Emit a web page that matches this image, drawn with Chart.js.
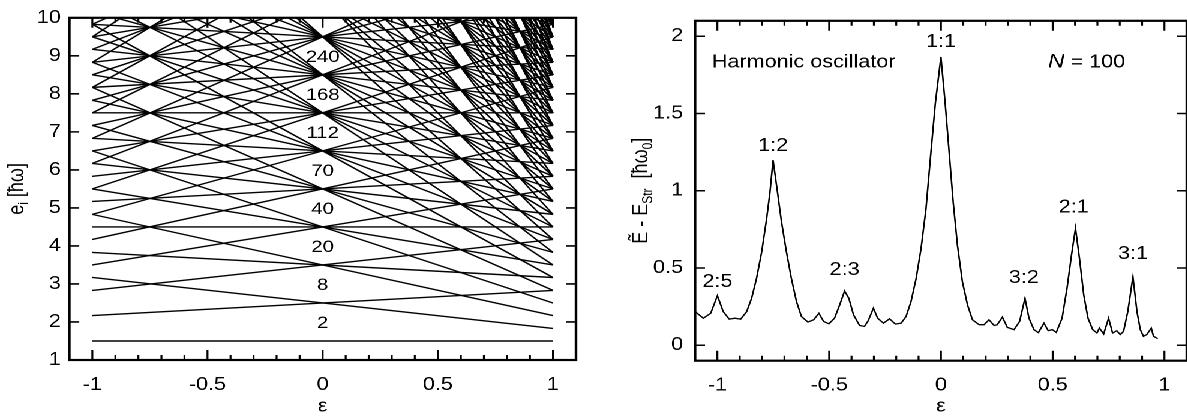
<!DOCTYPE html>
<html>
<head>
<meta charset="utf-8">
<script src="https://cdn.jsdelivr.net/npm/chart.js@4.4.1/dist/chart.umd.min.js"></script>
<style>
  html, body { margin: 0; padding: 0; background: #fff; overflow: hidden; }
  #stage { position: absolute; left: 0; top: 0; width: 990px; height: 419px;
           transform: scaleX(1.2); transform-origin: 0 0; }
  #stage > div { position: absolute; top: 0; height: 419px; }
  #leftBox  { left: 0;     width: 492px; }
  #rightBox { left: 492px; width: 498px; }
</style>
</head>
<body>
<div id="stage">
  <div id="leftBox"><canvas id="levels"></canvas></div>
  <div id="rightBox"><canvas id="shell"></canvas></div>
</div>
<script>
// ---- single-particle levels of the deformed oscillator (straight lines) ----
const epsEnds = [-1, 1];
// level energy at eps = -1 and at eps = +1, one entry per level line
const levelAtMinusOne = [
  1.5,
  2.17, 3.17,
  2.83, 3.83, 4.83,
  3.5, 4.5, 5.5, 6.5,
  4.17, 5.17, 6.17, 7.17, 8.17,
  4.83, 5.83, 6.83, 7.83, 8.83, 9.83,
  5.5, 6.5, 7.5, 8.5, 9.5, 10.5, 11.5,
  6.17, 7.17, 8.17, 9.17, 10.17, 11.17, 12.17, 13.17,
  6.83, 7.83, 8.83, 9.83, 10.83, 11.83, 12.83, 13.83, 14.83,
  7.5, 8.5, 9.5, 11.5, 12.5, 13.5, 14.5, 15.5, 16.5,
  8.17, 9.17, 13.17, 14.17, 15.17, 16.17, 17.17, 18.17,
  8.83, 9.83, 15.83, 16.83, 17.83, 18.83, 19.83,
  9.5, 17.5, 18.5, 19.5, 20.5, 21.5,
  19.17, 20.17, 21.17, 22.17, 23.17,
  21.83, 22.83, 23.83, 24.83,
  23.5, 24.5, 25.5, 26.5,
  25.17, 26.17, 27.17, 28.17,
  27.83, 28.83, 29.83,
  29.5, 30.5, 31.5,
  31.17, 32.17, 33.17,
  33.83, 34.83,
  35.5, 36.5,
  37.17, 38.17,
  39.83,
  41.5,
  43.17
];
const levelAtPlusOne = [
  1.5,
  2.83, 1.83,
  4.17, 3.17, 2.17,
  5.5, 4.5, 3.5, 2.5,
  6.83, 5.83, 4.83, 3.83, 2.83,
  8.17, 7.17, 6.17, 5.17, 4.17, 3.17,
  9.5, 8.5, 7.5, 6.5, 5.5, 4.5, 3.5,
  10.83, 9.83, 8.83, 7.83, 6.83, 5.83, 4.83, 3.83,
  12.17, 11.17, 10.17, 9.17, 8.17, 7.17, 6.17, 5.17, 4.17,
  13.5, 12.5, 11.5, 9.5, 8.5, 7.5, 6.5, 5.5, 4.5,
  14.83, 13.83, 9.83, 8.83, 7.83, 6.83, 5.83, 4.83,
  16.17, 15.17, 9.17, 8.17, 7.17, 6.17, 5.17,
  17.5, 9.5, 8.5, 7.5, 6.5, 5.5,
  9.83, 8.83, 7.83, 6.83, 5.83,
  9.17, 8.17, 7.17, 6.17,
  9.5, 8.5, 7.5, 6.5,
  9.83, 8.83, 7.83, 6.83,
  9.17, 8.17, 7.17,
  9.5, 8.5, 7.5,
  9.83, 8.83, 7.83,
  9.17, 8.17,
  9.5, 8.5,
  9.83, 8.83,
  9.17,
  9.5,
  9.83
];
// closed-shell particle numbers written in the gaps at eps = 0
const shellFill   = ['2', '8', '20', '40', '70', '112', '168', '240'];
const shellFillAt = [2, 3, 4, 5, 6, 7, 8, 9];

// ---- shell-correction energy for N = 100 ----
const curveEps = [
  -1.100, -1.063, -1.030, -1.000, -0.974, -0.947, -0.922, -0.896, -0.869, -0.847,
  -0.825, -0.802, -0.780, -0.765, -0.751, -0.733, -0.713, -0.691, -0.669, -0.646,
  -0.624, -0.595, -0.569, -0.546, -0.525, -0.501, -0.476, -0.453, -0.431, -0.412,
  -0.391, -0.364, -0.342, -0.325, -0.302, -0.283, -0.257, -0.230, -0.204, -0.178,
  -0.156, -0.134, -0.111, -0.089, -0.067, -0.045, -0.025, 0.000, 0.019, 0.037,
  0.055, 0.074, 0.096, 0.119, 0.141, 0.171, 0.193, 0.215, 0.238, 0.252,
  0.275, 0.297, 0.327, 0.352, 0.376, 0.394, 0.416, 0.436, 0.461, 0.480,
  0.498, 0.516, 0.542, 0.564, 0.584, 0.602, 0.620, 0.639, 0.658, 0.679,
  0.698, 0.709, 0.728, 0.750, 0.768, 0.787, 0.802, 0.817, 0.836, 0.859,
  0.877, 0.892, 0.906, 0.921, 0.941, 0.951, 0.970
];
const curveE = [
  0.218, 0.175, 0.207, 0.321, 0.218, 0.169, 0.175, 0.169, 0.218, 0.304,
  0.432, 0.603, 0.817, 0.988, 1.198, 1.010, 0.796, 0.603, 0.432, 0.282,
  0.186, 0.150, 0.165, 0.207, 0.154, 0.139, 0.175, 0.261, 0.351, 0.304,
  0.197, 0.128, 0.122, 0.160, 0.240, 0.175, 0.143, 0.171, 0.137, 0.143,
  0.186, 0.282, 0.432, 0.625, 0.881, 1.245, 1.566, 1.866, 1.566, 1.245,
  0.924, 0.646, 0.411, 0.261, 0.165, 0.133, 0.133, 0.165, 0.128, 0.133,
  0.182, 0.116, 0.101, 0.154, 0.304, 0.175, 0.101, 0.082, 0.143, 0.094,
  0.101, 0.083, 0.175, 0.368, 0.582, 0.757, 0.560, 0.325, 0.175, 0.101,
  0.079, 0.111, 0.073, 0.175, 0.079, 0.094, 0.069, 0.090, 0.218, 0.443,
  0.218, 0.101, 0.058, 0.069, 0.111, 0.058, 0.043
];
// frequency-ratio labels above the peaks
const ratioText = ['2:5', '1:2', '2:3', '1:1', '3:2', '2:1', '3:1'];
const ratioEps  = [-1.0, -0.751, -0.431, 0.0, 0.371, 0.594, 0.859];
const ratioE    = [0.41, 1.288, 0.486, 1.962, 0.436, 0.892, 0.592];

// tick values
const epsTicks   = [-1, -0.5, 0, 0.5, 1];
const levelTicks = [1, 2, 3, 4, 5, 6, 7, 8, 9, 10];
const shellTicks = [0, 0.5, 1, 1.5, 2];

const FONT = '"Liberation Sans", Arial, Helvetica, sans-serif';
const FS = 18;
Chart.defaults.font.family = FONT;
Chart.defaults.font.size = FS;
Chart.defaults.color = '#000';

function fontStr(p) {
  return (p.italic ? 'italic ' : '') + (p.size || FS) + 'px ' + FONT;
}
// draw a run of text pieces (sub/superscripts) centred at (cx, cy)
function drawRich(ctx, parts, cx, cy, rotate) {
  ctx.save();
  ctx.translate(cx, cy);
  if (rotate) ctx.rotate(-Math.PI / 2);
  ctx.textBaseline = 'alphabetic';
  ctx.textAlign = 'left';
  let total = 0;
  for (const p of parts) { ctx.font = fontStr(p); total += ctx.measureText(p.t).width; }
  let x = -total / 2;
  for (const p of parts) {
    ctx.font = fontStr(p);
    ctx.fillText(p.t, x, 6.5 + (p.dy || 0));
    x += ctx.measureText(p.t).width;
  }
  ctx.restore();
}

// frame with inward ticks on all four sides
const framePlugin = {
  id: 'frame',
  afterDraw(chart, args, o) {
    const { ctx, chartArea: a, scales: { x, y } } = chart;
    ctx.save();
    ctx.strokeStyle = '#000';
    ctx.lineWidth = 1.6;
    ctx.beginPath();
    for (let i = -11; i <= 11; i++) {
      const v = i / 10;
      if (v < x.min - 1e-9 || v > x.max + 1e-9) continue;
      const px = x.getPixelForValue(v);
      const len = (i % 5 === 0) ? 10 : 5;
      ctx.moveTo(px, a.bottom); ctx.lineTo(px, a.bottom - len);
      ctx.moveTo(px, a.top);    ctx.lineTo(px, a.top + len);
    }
    for (const v of o.yTicks) {
      const py = y.getPixelForValue(v);
      ctx.moveTo(a.left, py);  ctx.lineTo(a.left + 8.3, py);
      ctx.moveTo(a.right, py); ctx.lineTo(a.right - 8.3, py);
    }
    ctx.stroke();
    ctx.lineWidth = 2.2;
    ctx.strokeRect(a.left, a.top, a.right - a.left, a.bottom - a.top);
    ctx.restore();
  }
};

// text annotations placed in data coordinates, plus axis titles
const textPlugin = {
  id: 'texts',
  afterDraw(chart, args, o) {
    const { ctx, chartArea: a, scales: { x, y } } = chart;
    ctx.save();
    ctx.fillStyle = '#000';
    ctx.textAlign = 'center';
    ctx.textBaseline = 'middle';
    ctx.font = fontStr({ size: o.markSize || FS });
    o.marks.forEach(m => {
      ctx.fillText(m.t, x.getPixelForValue(m.x), y.getPixelForValue(m.y));
    });
    ctx.restore();
    (o.rich || []).forEach(r => {
      const cx = r.cx != null ? r.cx : x.getPixelForValue(r.x);
      const cy = r.cy != null ? r.cy : y.getPixelForValue(r.y);
      drawRich(ctx, r.parts, cx, cy, false);
    });
    drawRich(ctx, o.yTitle, o.yTitleX, (a.top + a.bottom) / 2, true);
    drawRich(ctx, [{ t: 'ε' }], (a.left + a.right) / 2, 405, false);
  }
};

function baseScales(yMin, yMax, yTicks, yWidth, yPad, xHeight) {
  return {
    x: {
      type: 'linear', min: -1.1, max: 1.1,
      grid: { display: false, drawTicks: false }, border: { display: false },
      afterBuildTicks: s => { s.ticks = epsTicks.map(v => ({ value: v })); },
      afterFit: s => { s.height = xHeight; },
      ticks: { padding: 14, autoSkip: false, maxRotation: 0,
               callback: v => String(v) }
    },
    y: {
      type: 'linear', min: yMin, max: yMax,
      grid: { display: false, drawTicks: false }, border: { display: false },
      afterBuildTicks: s => { s.ticks = yTicks.map(v => ({ value: v })); },
      afterFit: s => { s.width = yWidth; },
      ticks: { padding: yPad, autoSkip: false, callback: v => String(v) }
    }
  };
}

const common = {
  responsive: true,
  maintainAspectRatio: false,
  animation: false,
  devicePixelRatio: 2,
  events: [],
  plugins: { legend: { display: false }, tooltip: { enabled: false } }
};

// left panel: level scheme
new Chart(document.getElementById('levels'), {
  type: 'line',
  data: {
    datasets: levelAtMinusOne.map((e, i) => ({
      data: [{ x: epsEnds[0], y: e }, { x: epsEnds[1], y: levelAtPlusOne[i] }],
      borderColor: '#000', borderWidth: 1.4, pointRadius: 0, tension: 0
    }))
  },
  options: Object.assign({}, common, {
    layout: { padding: { top: 16, right: 12, left: 0, bottom: 0 } },
    scales: baseScales(1, 10, levelTicks, 57.75, 7, 59),
    plugins: Object.assign({}, common.plugins, {
      frame: { yTicks: levelTicks },
      texts: {
        marks: shellFill.map((t, i) => ({ t, x: 0, y: shellFillAt[i] - 0.04 })),
        markSize: 17,
        yTitle: [{ t: 'e' }, { t: 'i', size: 12, dy: 4 }, { t: ' [ħω]' }],
        yTitleX: 13
      }
    })
  }),
  plugins: [framePlugin, textPlugin]
});

// right panel: shell-correction energy
new Chart(document.getElementById('shell'), {
  type: 'line',
  data: {
    datasets: [{
      data: curveEps.map((e, i) => ({ x: e, y: curveE[i] })),
      borderColor: '#000', borderWidth: 1.3, pointRadius: 0, tension: 0
    }]
  },
  options: Object.assign({}, common, {
    layout: { padding: { top: 16, right: 1, left: 0, bottom: 0 } },
    scales: baseScales(-0.1, 2.1, shellTicks, 87.2, 10, 58.3),
    plugins: Object.assign({}, common.plugins, {
      frame: { yTicks: shellTicks },
      texts: {
        marks: ratioText.map((t, i) => ({ t, x: ratioEps[i], y: ratioE[i] })),
        rich: [
          { x: -0.614, y: 1.84, parts: [{ t: 'Harmonic oscillator' }] },
          { x: 0.652, y: 1.84, parts: [{ t: 'N', italic: true, size: 19 }, { t: ' = 100' }] }
        ],
        yTitle: [{ t: 'Ẽ - E' }, { t: 'Str', size: 12, dy: 4 }, { t: '  [ħω' },
                 { t: '0', size: 12, dy: 4 }, { t: ']' }],
        yTitleX: 41
      }
    })
  }),
  plugins: [framePlugin, textPlugin]
});
</script>
</body>
</html>
